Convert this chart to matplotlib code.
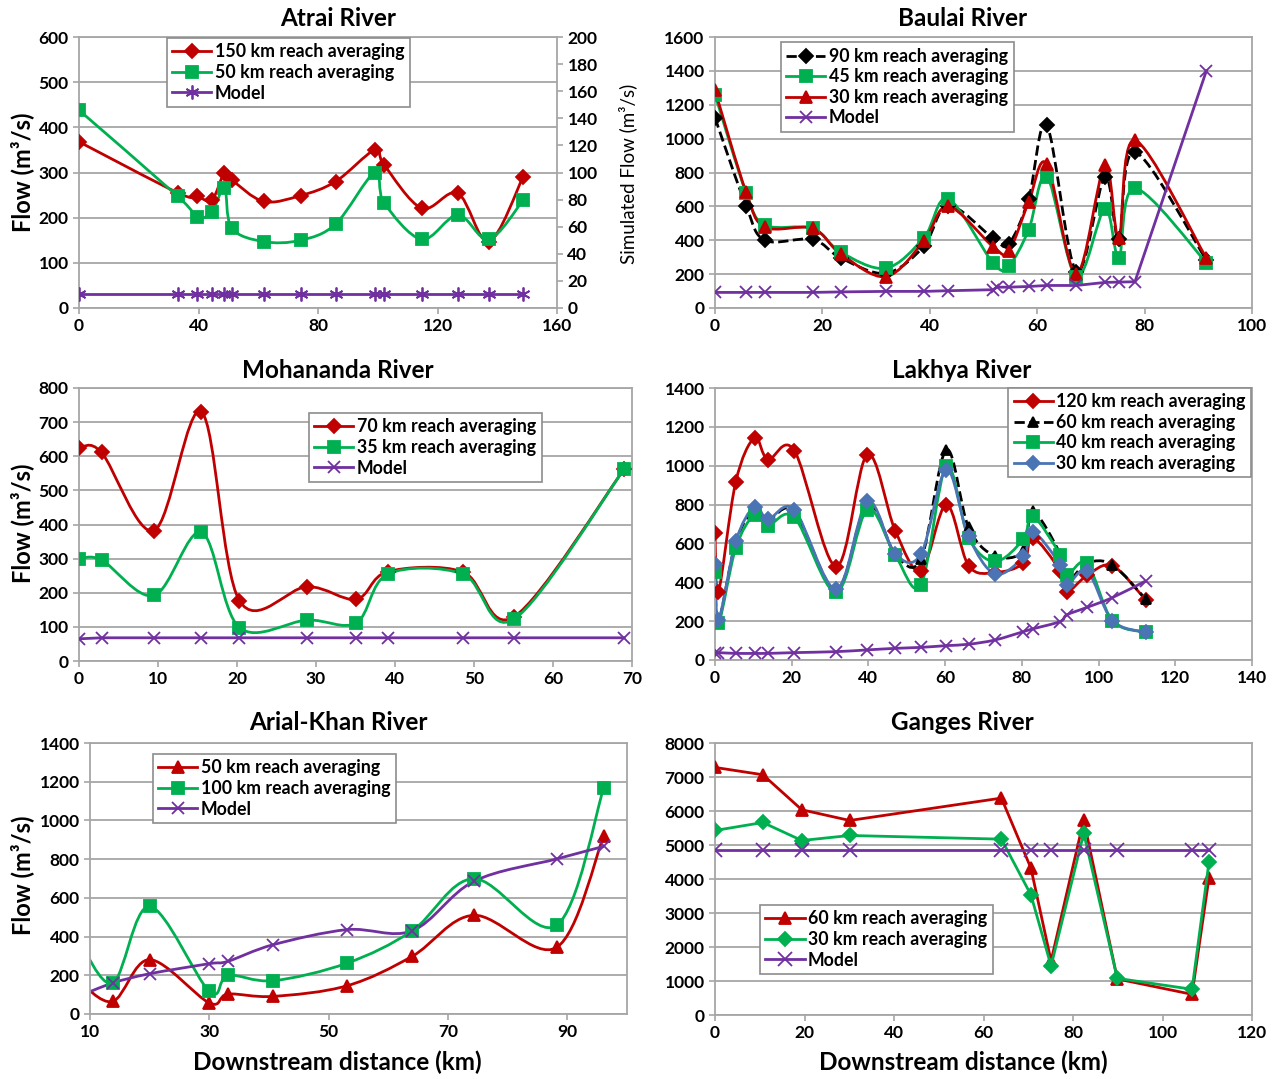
import matplotlib
matplotlib.use("Agg")
import matplotlib.pyplot as plt
from matplotlib.path import Path
from matplotlib.patches import PathPatch
from matplotlib.lines import Line2D

plt.rcParams["font.family"] = ["Lato", "DejaVu Sans"]
plt.rcParams["font.weight"] = "bold"

RED = "#C00000"
GREEN = "#00B050"
PURPLE = "#7030A0"
BLUE = "#4A74B4"
GRID = "#A6A6A6"
W, H = 1275, 1079

# ---------------- data ----------------
atrai_x = [0, 33.1, 39.6, 44.5, 48.7, 51.1, 61.8, 74.2, 85.9, 99, 102.1, 114.7, 126.8, 137.2, 148.7]
atrai_150 = [368, 255, 247, 239, 300, 284, 236, 249, 280, 350, 317, 221, 254, 147, 291]
atrai_50 = [438, 247, 201, 213, 265, 177, 147, 150, 186, 300, 233, 152, 206, 152, 239]
atrai_model = [10.5, 10.5, 10.5, 10.5, 10.5, 10.5, 10.5, 10.5, 10.5, 10.5, 10.5, 10.5, 10.5, 10.5, 10.5]

baulai_x = [0, 5.8, 9.3, 18.2, 23.4, 31.8, 38.9, 43.4, 51.8, 54.7, 58.4, 61.8, 67.3, 72.6, 75.2, 78.2, 91.5]
baulai_90 = [1123, 602, 400, 405, 296, 205, 365, 605, 412, 378, 643, 1078, 215, 774, 408, 921, 284]
baulai_45 = [1260, 680, 490, 470, 330, 235, 415, 645, 265, 250, 460, 776, 185, 586, 298, 707, 268]
baulai_30 = [1285, 683, 478, 470, 320, 185, 395, 600, 362, 335, 625, 850, 200, 843, 413, 990, 295]
baulai_model_x = [0, 5.8, 9.3, 18.2, 23.4, 31.8, 38.9, 43.4, 51.8, 52.5, 54.7, 58.4, 61.8, 67.3, 72.6, 75.2, 78.2, 91.5]
baulai_model = [92, 92, 92, 92, 95, 98, 98, 102, 108, 123, 123, 127, 133, 133, 151, 153, 155, 1400]

moh_x = [0, 2.85, 9.5, 15.5, 20.3, 28.9, 35.1, 39.1, 48.6, 55.1, 69.0]
moh_70 = [624, 611, 382, 730, 177, 218, 181, 262, 261, 130, 562]
moh_35 = [299, 296, 192, 377, 98, 120, 112, 255, 255, 123, 562]
moh_model = [65, 68, 68, 68, 68, 68, 68, 68, 68, 68, 68]

lak_x = [0, 0.9, 5.4, 10.3, 13.8, 20.7, 31.6, 39.7, 47, 53.7, 60.3, 66.1, 73, 80.4, 82.8, 90, 91.7, 97, 103.6, 112.3]
lak_120 = [653, 352, 916, 1143, 1031, 1077, 481, 1057, 665, 459, 799, 486, 450, 498, 630, 459, 352, 435, 485, 309]
lak_60 = [480, 200, 605, 775, 720, 765, 360, 805, 545, 520, 1082, 682, 536, 560, 765, 545, 404, 498, 490, 313]
lak_40 = [455, 189, 576, 747, 692, 734, 349, 773, 538, 387, 997, 630, 507, 622, 742, 541, 438, 498, 203, 143]
lak_30 = [493, 206, 610, 790, 725, 773, 364, 816, 546, 545, 979, 636, 443, 533, 661, 490, 387, 459, 203, 143]
lak_model = [38, 38, 34, 34, 34, 38, 43, 52, 60, 65, 74, 81, 103, 146, 160, 198, 232, 271, 321, 407]

ak_x = [8, 13.8, 20, 30, 33.1, 40.7, 53.1, 64, 74.3, 88.2, 96.1]
ak_50 = [175, 65, 281, 57, 103, 91, 146, 298, 510, 344, 921]
ak_100 = [390, 160, 556, 117, 200, 172, 263, 430, 699, 458, 1168]
ak_model = [90, 160, 208, 260, 272, 358, 436, 430, 685, 801, 866]

gan_x = [0, 10.7, 19.4, 30.1, 64, 70.6, 75.1, 82.4, 89.9, 106.6, 110.4]
gan_60 = [7282, 7066, 6036, 5721, 6380, 4318, 1590, 5741, 1060, 608, 4043]
gan_30 = [5427, 5662, 5132, 5280, 5172, 3533, 1443, 5348, 1079, 756, 4514]
gan_model = [4850, 4850, 4850, 4850, 4850, 4850, 4850, 4850, 4850, 4850, 4850]


def smooth_path(x, y):
    # courbe lissée façon Excel (Bezier / Catmull-Rom)
    n = len(x)
    verts = [(x[0], y[0])]
    codes = [Path.MOVETO]
    for i in range(n - 1):
        xa, ya = (x[i - 1], y[i - 1]) if i > 0 else (x[i], y[i])
        xb, yb = (x[i + 2], y[i + 2]) if i + 2 < n else (x[i + 1], y[i + 1])
        c1 = (x[i] + (x[i + 1] - xa) / 6, y[i] + (y[i + 1] - ya) / 6)
        c2 = (x[i + 1] - (xb - x[i]) / 6, y[i + 1] - (yb - y[i]) / 6)
        verts += [c1, c2, (x[i + 1], y[i + 1])]
        codes += [Path.CURVE4] * 3
    return Path(verts, codes)


def series(ax, x, y, color, marker, ms, label, smooth=False, ls="-", lw=2, mew=1.3):
    if smooth:
        ax.add_patch(PathPatch(smooth_path(x, y), facecolor="none", edgecolor=color,
                               lw=lw, linestyle=ls, zorder=2))
        ax.plot(x, y, ls="none", marker=marker, ms=ms, color=color, mew=mew, zorder=3)
    else:
        ax.plot(x, y, ls=ls, lw=lw, marker=marker, ms=ms, color=color, mew=mew, zorder=3)
    return Line2D([], [], color=color, ls=ls, lw=lw, marker=marker, ms=ms, mew=mew, label=label)


def make_ax(l, r, t, b, xlim, xticks, ylim, yticks):
    ax = fig.add_axes([l / W, 1 - b / H, (r - l) / W, (b - t) / H])
    ax.set_xlim(*xlim)
    ax.set_ylim(*ylim)
    ax.set_xticks(xticks)
    ax.set_yticks(yticks)
    ax.grid(axis="y", color=GRID, lw=1.3)
    ax.set_axisbelow(True)
    for s in ax.spines.values():
        s.set_color(GRID)
        s.set_linewidth(1.3)
    ax.tick_params(colors=GRID, labelcolor="black", labelsize=12.5, length=4, width=1.2)
    return ax


def legend(ax, handles, x, y):
    leg = ax.legend(handles=handles, loc="upper left", bbox_to_anchor=(x, y), fontsize=12.8,
                    frameon=True, fancybox=False, framealpha=1, edgecolor="#8C8C8C",
                    borderpad=0.3, labelspacing=0.2, handlelength=2.2, handletextpad=0.2,
                    borderaxespad=0)
    leg.get_frame().set_linewidth(1.2)


fig = plt.figure(figsize=(W / 100, H / 100), dpi=100)
ASTER = (6, 2, 0)

# Atrai
ax = make_ax(79, 557, 37, 308, (0, 160), range(0, 161, 40), (0, 600), range(0, 601, 100))
ax2 = ax.twinx()
ax2.set_ylim(0, 200)
ax2.set_yticks(range(0, 201, 20))
ax2.tick_params(colors=GRID, labelcolor="black", labelsize=12.5, length=4, width=1.2)
for s in ax2.spines.values():
    s.set_visible(False)
h = [series(ax, atrai_x, atrai_150, RED, "D", 7, "150 km reach averaging", smooth=True),
     series(ax, atrai_x, atrai_50, GREEN, "s", 9, "50 km reach averaging", smooth=True),
     series(ax2, atrai_x, atrai_model, PURPLE, ASTER, 10, "Model")]
legend(ax2, h, 0.184, 0.996)
fig.text(628 / W, 1 - 174 / H, "Simulated Flow (m³/s)", rotation=90, ha="center", va="center",
         fontsize=13.5, fontweight="normal")

# Baulai
ax = make_ax(715, 1252, 37, 308, (0, 100), range(0, 101, 20), (0, 1600), range(0, 1601, 200))
h = [series(ax, baulai_x, baulai_90, "black", "D", 7, "90 km reach averaging", smooth=True, ls="--"),
     series(ax, baulai_x, baulai_45, GREEN, "s", 9, "45 km reach averaging", smooth=True),
     series(ax, baulai_x, baulai_30, RED, "^", 9, "30 km reach averaging", smooth=True),
     series(ax, baulai_model_x, baulai_model, PURPLE, "x", 9, "Model")]
legend(ax, h, 0.123, 0.98)

# Mohananda
ax = make_ax(79, 632, 388, 661, (0, 70), range(0, 71, 10), (0, 800), range(0, 801, 100))
h = [series(ax, moh_x, moh_70, RED, "D", 7, "70 km reach averaging", smooth=True),
     series(ax, moh_x, moh_35, GREEN, "s", 9, "35 km reach averaging", smooth=True),
     series(ax, moh_x, moh_model, PURPLE, "x", 9, "Model")]
legend(ax, h, 0.416, 0.908)

# Lakhya
ax = make_ax(715, 1252, 388, 660, (0, 140), range(0, 141, 20), (0, 1400), range(0, 1401, 200))
h = [series(ax, lak_x, lak_120, RED, "D", 7, "120 km reach averaging", smooth=True),
     series(ax, lak_x, lak_60, "black", "^", 7, "60 km reach averaging", smooth=True, ls="--"),
     series(ax, lak_x, lak_40, GREEN, "s", 9, "40 km reach averaging", smooth=True),
     series(ax, lak_x, lak_30, BLUE, "D", 7, "30 km reach averaging", smooth=True)]
series(ax, lak_x, lak_model, PURPLE, "x", 9, "Model", smooth=True)
legend(ax, h, 0.546, 1.0)

# Arial-Khan
ax = make_ax(90, 627, 743, 1014, (10, 100), range(10, 91, 20), (0, 1400), range(0, 1401, 200))
h = [series(ax, ak_x, ak_50, RED, "^", 9, "50 km reach averaging", smooth=True),
     series(ax, ak_x, ak_100, GREEN, "s", 9, "100 km reach averaging", smooth=True),
     series(ax, ak_x, ak_model, PURPLE, "x", 9, "Model", smooth=True)]
legend(ax, h, 0.117, 0.959)

# Ganges
ax = make_ax(715, 1252, 743, 1015, (0, 120), range(0, 121, 20), (0, 8000), range(0, 8001, 1000))
h = [series(ax, gan_x, gan_60, RED, "^", 9, "60 km reach averaging"),
     series(ax, gan_x, gan_30, GREEN, "D", 7, "30 km reach averaging"),
     series(ax, gan_x, gan_model, PURPLE, "x", 10, "Model")]
legend(ax, h, 0.084, 0.404)

# titres et libellés
for cx, cy, t in [(338, 18, "Atrai River"), (963, 18, "Baulai River"),
                  (338, 370, "Mohananda River"), (962, 370, "Lakhya River"),
                  (338, 723, "Arial-Khan River"), (962, 723, "Ganges River")]:
    fig.text(cx / W, 1 - cy / H, t, ha="center", va="center", fontsize=17.5, fontweight="bold")
for cy in (172, 523, 875):
    fig.text(22 / W, 1 - cy / H, "Flow (m³/s)", rotation=90, ha="center", va="center",
             fontsize=17, fontweight="bold")
for cx in (337, 963):
    fig.text(cx / W, 1 - 1062 / H, "Downstream distance (km)", ha="center", va="center",
             fontsize=17.5, fontweight="bold")

fig.savefig("out.png", dpi=100)
